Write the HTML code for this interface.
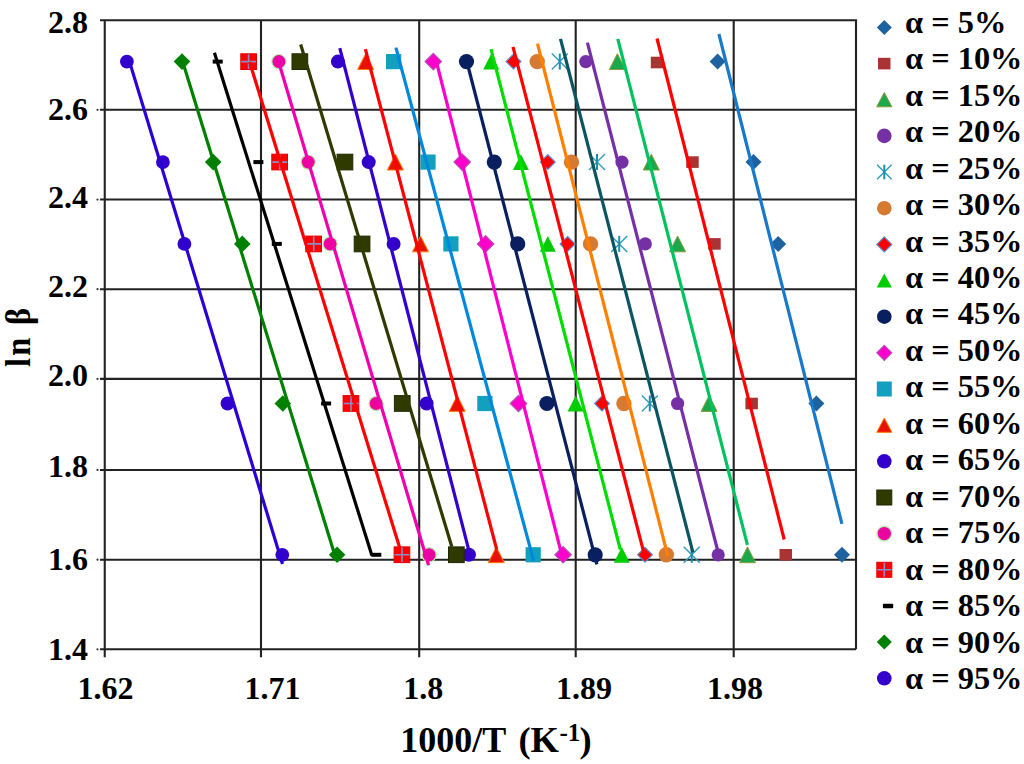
<!DOCTYPE html>
<html><head><meta charset="utf-8"><title>ln beta vs 1000/T</title>
<style>
html,body{margin:0;padding:0;background:#fff;}
body{width:1024px;height:764px;overflow:hidden;}
svg{display:block;}
text{font-family:"Liberation Serif",serif;font-weight:bold;fill:#000;}
</style></head><body>
<svg width="1024" height="764" viewBox="0 0 1024 764">
<rect width="1024" height="764" fill="#fff"/>
<path d="M100 20.20H856M100 109.80H856M100 199.55H856M100 289.20H856M100 378.90H856M100 469.95H856M100 559.70H856M100 649.30H856M104.75 19.2V657.3M261.00 19.2V657.3M419.20 19.2V657.3M575.70 19.2V657.3M733.70 19.2V657.3M856 19.2V649.3" stroke="#222" stroke-width="2.1" fill="none" stroke-linejoin="round"/>
<circle cx="97.5" cy="109.80" r="1.1" fill="#333"/>
<circle cx="97.5" cy="199.55" r="1.1" fill="#333"/>
<circle cx="97.5" cy="289.20" r="1.1" fill="#333"/>
<circle cx="97.5" cy="378.90" r="1.1" fill="#333"/>
<circle cx="97.5" cy="469.95" r="1.1" fill="#333"/>
<circle cx="97.5" cy="559.70" r="1.1" fill="#333"/>
<circle cx="97.5" cy="649.30" r="1.1" fill="#333"/>
<polygon points="717.6,53.6 725.6,61.6 717.6,69.6 709.6,61.6" fill="#1F62A0"/>
<polygon points="753.5,154.1 761.5,162.1 753.5,170.1 745.5,162.1" fill="#1F62A0"/>
<polygon points="778.2,235.9 786.2,243.9 778.2,251.9 770.2,243.9" fill="#1F62A0"/>
<polygon points="816.4,395.5 824.4,403.5 816.4,411.5 808.4,403.5" fill="#1F62A0"/>
<polygon points="842.0,546.8 850.0,554.8 842.0,562.8 834.0,554.8" fill="#1F62A0"/>
<rect x="650.8" y="56.7" width="12.5" height="11.6" fill="#AA3434"/>
<rect x="686.2" y="156.3" width="12.5" height="11.6" fill="#AA3434"/>
<rect x="708.2" y="238.1" width="12.5" height="11.6" fill="#AA3434"/>
<rect x="745.4" y="397.7" width="12.5" height="11.6" fill="#AA3434"/>
<rect x="779.5" y="549.0" width="12.5" height="11.6" fill="#AA3434"/>
<polygon points="617.4,53.7 625.4,69.5 609.4,69.5" fill="#1BA84A" stroke="#8A9A3A" stroke-width="1"/>
<polygon points="651.3,154.2 659.3,170.0 643.3,170.0" fill="#1BA84A" stroke="#8A9A3A" stroke-width="1"/>
<polygon points="677.6,236.0 685.6,251.8 669.6,251.8" fill="#1BA84A" stroke="#8A9A3A" stroke-width="1"/>
<polygon points="709.1,395.6 717.1,411.4 701.1,411.4" fill="#1BA84A" stroke="#8A9A3A" stroke-width="1"/>
<polygon points="747.5,546.9 755.5,562.7 739.5,562.7" fill="#1BA84A" stroke="#8A9A3A" stroke-width="1"/>
<circle cx="585.8" cy="61.6" r="6.6" fill="#7530A5"/>
<circle cx="622.0" cy="162.1" r="6.6" fill="#7530A5"/>
<circle cx="645.3" cy="243.9" r="6.6" fill="#7530A5"/>
<circle cx="677.6" cy="403.5" r="6.6" fill="#7530A5"/>
<circle cx="718.2" cy="554.8" r="6.6" fill="#7530A5"/>
<path d="M551.8 53.6L567.8 69.6M567.8 53.6L551.8 69.6" stroke="#2E9CB8" stroke-width="1.4"/><path d="M559.8 53.6V69.6" stroke="#1A8EA8" stroke-width="2"/>
<path d="M589.0 154.1L605.0 170.1M605.0 154.1L589.0 170.1" stroke="#2E9CB8" stroke-width="1.4"/><path d="M597.0 154.1V170.1" stroke="#1A8EA8" stroke-width="2"/>
<path d="M611.2 235.9L627.2 251.9M627.2 235.9L611.2 251.9" stroke="#2E9CB8" stroke-width="1.4"/><path d="M619.2 235.9V251.9" stroke="#1A8EA8" stroke-width="2"/>
<path d="M641.8 395.5L657.8 411.5M657.8 395.5L641.8 411.5" stroke="#2E9CB8" stroke-width="1.4"/><path d="M649.8 395.5V411.5" stroke="#1A8EA8" stroke-width="2"/>
<path d="M683.7 546.8L699.7 562.8M699.7 546.8L683.7 562.8" stroke="#2E9CB8" stroke-width="1.4"/><path d="M691.7 546.8V562.8" stroke="#1A8EA8" stroke-width="2"/>
<circle cx="537.2" cy="61.6" r="7.7" fill="#D67A32"/>
<circle cx="571.5" cy="162.1" r="7.7" fill="#D67A32"/>
<circle cx="590.5" cy="243.9" r="7.7" fill="#D67A32"/>
<circle cx="623.9" cy="403.5" r="7.7" fill="#D67A32"/>
<circle cx="666.3" cy="554.8" r="7.7" fill="#D67A32"/>
<polygon points="513.5,54.2 520.9,61.6 513.5,69.0 506.1,61.6" fill="#FF0000" stroke="#5B8BD0" stroke-width="1.2"/>
<polygon points="547.8,154.7 555.2,162.1 547.8,169.5 540.4,162.1" fill="#FF0000" stroke="#5B8BD0" stroke-width="1.2"/>
<polygon points="567.6,236.5 575.0,243.9 567.6,251.3 560.2,243.9" fill="#FF0000" stroke="#5B8BD0" stroke-width="1.2"/>
<polygon points="602.0,396.1 609.4,403.5 602.0,410.9 594.6,403.5" fill="#FF0000" stroke="#5B8BD0" stroke-width="1.2"/>
<polygon points="645.0,547.4 652.4,554.8 645.0,562.2 637.6,554.8" fill="#FF0000" stroke="#5B8BD0" stroke-width="1.2"/>
<polygon points="491.2,53.7 499.2,69.5 483.2,69.5" fill="#00CC00"/>
<polygon points="520.9,154.2 528.9,170.0 512.9,170.0" fill="#00CC00"/>
<polygon points="547.8,236.0 555.8,251.8 539.8,251.8" fill="#00CC00"/>
<polygon points="575.6,395.6 583.6,411.4 567.6,411.4" fill="#00CC00"/>
<polygon points="621.8,546.9 629.8,562.7 613.8,562.7" fill="#00CC00"/>
<circle cx="466.5" cy="61.6" r="7.6" fill="#0A1F5F"/>
<circle cx="494.3" cy="162.1" r="7.6" fill="#0A1F5F"/>
<circle cx="517.7" cy="243.9" r="7.6" fill="#0A1F5F"/>
<circle cx="546.9" cy="403.5" r="7.6" fill="#0A1F5F"/>
<circle cx="595.2" cy="554.8" r="7.6" fill="#0A1F5F"/>
<polygon points="433.3,53.4 441.5,61.6 433.3,69.8 425.1,61.6" fill="#FF00CC" stroke="#B050B0" stroke-width="1.2"/>
<polygon points="462.2,153.9 470.4,162.1 462.2,170.3 454.0,162.1" fill="#FF00CC" stroke="#B050B0" stroke-width="1.2"/>
<polygon points="485.6,235.7 493.8,243.9 485.6,252.1 477.4,243.9" fill="#FF00CC" stroke="#B050B0" stroke-width="1.2"/>
<polygon points="518.5,395.3 526.7,403.5 518.5,411.7 510.3,403.5" fill="#FF00CC" stroke="#B050B0" stroke-width="1.2"/>
<polygon points="563.1,546.6 571.3,554.8 563.1,563.0 554.9,554.8" fill="#FF00CC" stroke="#B050B0" stroke-width="1.2"/>
<rect x="386.0" y="54.0" width="15.2" height="15.2" fill="#12A0BE"/>
<rect x="420.4" y="154.5" width="15.2" height="15.2" fill="#12A0BE"/>
<rect x="443.3" y="236.3" width="15.2" height="15.2" fill="#12A0BE"/>
<rect x="477.3" y="395.9" width="15.2" height="15.2" fill="#12A0BE"/>
<rect x="525.6" y="547.2" width="15.2" height="15.2" fill="#12A0BE"/>
<polygon points="365.7,53.7 373.7,69.5 357.7,69.5" fill="#E81200" stroke="#FF7A00" stroke-width="1"/>
<polygon points="395.4,154.2 403.4,170.0 387.4,170.0" fill="#E81200" stroke="#FF7A00" stroke-width="1"/>
<polygon points="420.5,236.0 428.5,251.8 412.5,251.8" fill="#E81200" stroke="#FF7A00" stroke-width="1"/>
<polygon points="457.2,395.6 465.2,411.4 449.2,411.4" fill="#E81200" stroke="#FF7A00" stroke-width="1"/>
<polygon points="496.3,546.9 504.3,562.7 488.3,562.7" fill="#E81200" stroke="#FF7A00" stroke-width="1"/>
<circle cx="337.9" cy="61.6" r="7.0" fill="#3300CC"/>
<circle cx="368.7" cy="162.1" r="7.0" fill="#3300CC"/>
<circle cx="393.6" cy="243.9" r="7.0" fill="#3300CC"/>
<circle cx="426.6" cy="403.5" r="7.0" fill="#3300CC"/>
<circle cx="469.0" cy="554.8" r="7.0" fill="#3300CC"/>
<rect x="292.0" y="53.8" width="15.7" height="15.7" fill="#2F3A00" stroke="#1F2800" stroke-width="1"/>
<rect x="337.1" y="154.2" width="15.7" height="15.7" fill="#2F3A00" stroke="#1F2800" stroke-width="1"/>
<rect x="354.2" y="236.1" width="15.7" height="15.7" fill="#2F3A00" stroke="#1F2800" stroke-width="1"/>
<rect x="394.4" y="395.6" width="15.7" height="15.7" fill="#2F3A00" stroke="#1F2800" stroke-width="1"/>
<rect x="448.5" y="546.9" width="15.7" height="15.7" fill="#2F3A00" stroke="#1F2800" stroke-width="1"/>
<circle cx="278.9" cy="61.6" r="7.1" fill="#EA04A0" stroke="#B8F0A8" stroke-width="1.2"/>
<circle cx="308.2" cy="162.1" r="7.1" fill="#EA04A0" stroke="#B8F0A8" stroke-width="1.2"/>
<circle cx="330.1" cy="243.9" r="7.1" fill="#EA04A0" stroke="#B8F0A8" stroke-width="1.2"/>
<circle cx="376.1" cy="403.5" r="7.1" fill="#EA04A0" stroke="#B8F0A8" stroke-width="1.2"/>
<circle cx="429.1" cy="554.8" r="7.1" fill="#EA04A0" stroke="#B8F0A8" stroke-width="1.2"/>
<rect x="240.8" y="53.8" width="15.7" height="15.7" fill="#FF0000" stroke="#E00000" stroke-width="1"/><path d="M241.2 61.6H255.9M248.6 54.2V69.0" stroke="#8C8CC8" stroke-width="1.6"/>
<rect x="271.8" y="154.2" width="15.7" height="15.7" fill="#FF0000" stroke="#E00000" stroke-width="1"/><path d="M272.3 162.1H287.1M279.7 154.8V169.4" stroke="#8C8CC8" stroke-width="1.6"/>
<rect x="305.8" y="236.1" width="15.7" height="15.7" fill="#FF0000" stroke="#E00000" stroke-width="1"/><path d="M306.3 243.9H321.1M313.7 236.6V251.2" stroke="#8C8CC8" stroke-width="1.6"/>
<rect x="343.1" y="395.6" width="15.7" height="15.7" fill="#FF0000" stroke="#E00000" stroke-width="1"/><path d="M343.6 403.5H358.4M351.0 396.1V410.9" stroke="#8C8CC8" stroke-width="1.6"/>
<rect x="394.1" y="546.9" width="15.7" height="15.7" fill="#FF0000" stroke="#E00000" stroke-width="1"/><path d="M394.6 554.8H409.4M402.0 547.4V562.1" stroke="#8C8CC8" stroke-width="1.6"/>
<rect x="212.7" y="59.6" width="10" height="4" fill="#000"/>
<rect x="253.4" y="160.1" width="10" height="4" fill="#000"/>
<rect x="271.8" y="241.9" width="10" height="4" fill="#000"/>
<rect x="321.1" y="401.5" width="10" height="4" fill="#000"/>
<rect x="371.3" y="552.8" width="10" height="4" fill="#000"/>
<polygon points="182.0,53.3 190.3,61.6 182.0,69.9 173.7,61.6" fill="#008000"/>
<polygon points="213.2,153.8 221.5,162.1 213.2,170.4 204.9,162.1" fill="#008000"/>
<polygon points="242.3,235.6 250.6,243.9 242.3,252.2 234.0,243.9" fill="#008000"/>
<polygon points="282.8,395.2 291.1,403.5 282.8,411.8 274.5,403.5" fill="#008000"/>
<polygon points="337.1,546.5 345.4,554.8 337.1,563.1 328.8,554.8" fill="#008000"/>
<circle cx="126.9" cy="61.6" r="6.9" fill="#3300CC"/>
<circle cx="162.9" cy="162.1" r="6.9" fill="#3300CC"/>
<circle cx="184.4" cy="243.9" r="6.9" fill="#3300CC"/>
<circle cx="227.5" cy="403.5" r="6.9" fill="#3300CC"/>
<circle cx="282.3" cy="554.8" r="6.9" fill="#3300CC"/>
<line x1="718.9" y1="34.0" x2="841.9" y2="523.8" stroke="#1A78C8" stroke-width="3.2"/>
<line x1="657.0" y1="38.5" x2="784.2" y2="539.5" stroke="#FF0000" stroke-width="3.2"/>
<line x1="617.8" y1="38.9" x2="747.4" y2="544.9" stroke="#00C25E" stroke-width="3.2"/>
<line x1="587.4" y1="42.6" x2="717.4" y2="549.5" stroke="#7530A5" stroke-width="3.2"/>
<line x1="560.5" y1="38.9" x2="692.9" y2="552.3" stroke="#0B5563" stroke-width="3.2"/>
<line x1="537.5" y1="43.6" x2="667.8" y2="556.0" stroke="#FF8000" stroke-width="3.2"/>
<line x1="513.0" y1="46.9" x2="643.5" y2="551.4" stroke="#FF0000" stroke-width="3.2"/>
<line x1="491.0" y1="49.1" x2="620.3" y2="549.5" stroke="#00DD00" stroke-width="3.2"/>
<line x1="466.7" y1="61.0" x2="596.9" y2="564.4" stroke="#0A1F5F" stroke-width="3.2"/>
<line x1="436.2" y1="61.0" x2="561.7" y2="554.7" stroke="#FF00CC" stroke-width="3.2"/>
<line x1="395.9" y1="47.6" x2="533.6" y2="560.7" stroke="#0088DD" stroke-width="3.2"/>
<line x1="365.4" y1="49.1" x2="496.7" y2="549.5" stroke="#FF0000" stroke-width="3.2"/>
<line x1="339.8" y1="48.2" x2="469.7" y2="553.6" stroke="#3300CC" stroke-width="3.2"/>
<line x1="300.7" y1="44.5" x2="451.8" y2="546.8" stroke="#2F3A00" stroke-width="3.2"/>
<line x1="278.4" y1="61.0" x2="428.6" y2="565.3" stroke="#F000AC" stroke-width="3.2"/>
<line x1="249.6" y1="62.0" x2="399.7" y2="547.7" stroke="#FF0000" stroke-width="3.2"/>
<line x1="214.4" y1="52.8" x2="371.9" y2="555.5" stroke="#000000" stroke-width="3.2"/>
<line x1="182.7" y1="61.7" x2="334.8" y2="555.0" stroke="#008000" stroke-width="3.2"/>
<line x1="129.2" y1="60.6" x2="282.5" y2="564.0" stroke="#2A00D4" stroke-width="3.2"/>
<text x="88" y="32.75" font-size="32" text-anchor="end">2.8</text>
<text x="88" y="119.60" font-size="32" text-anchor="end">2.6</text>
<text x="88" y="208.00" font-size="32" text-anchor="end">2.4</text>
<text x="88" y="297.45" font-size="32" text-anchor="end">2.2</text>
<text x="88" y="385.95" font-size="32" text-anchor="end">2.0</text>
<text x="88" y="476.70" font-size="32" text-anchor="end">1.8</text>
<text x="88" y="569.80" font-size="32" text-anchor="end">1.6</text>
<text x="88" y="660.15" font-size="32" text-anchor="end">1.4</text>
<text x="105.4" y="699" font-size="32" text-anchor="middle">1.62</text>
<text x="272.4" y="699" font-size="32" text-anchor="middle">1.71</text>
<text x="423.2" y="699" font-size="32" text-anchor="middle">1.8</text>
<text x="584.0" y="699" font-size="32" text-anchor="middle">1.89</text>
<text x="735.1" y="699" font-size="32" text-anchor="middle">1.98</text>
<text y="751.6" font-size="36"><tspan x="400.2">1000/T</tspan><tspan x="518.4" font-size="36.5">(K</tspan><tspan x="559.5" dy="-10.6" font-size="25">-1</tspan><tspan x="579.4" dy="10.6" font-size="36.5">)</tspan></text>
<text transform="translate(30.2,366.9) rotate(-90) scale(0.93,1)" font-size="35">l</text>
<text transform="translate(30.2,355.7) rotate(-90) scale(0.93,1)" font-size="35">n</text>
<text transform="translate(30.2,325.1) rotate(-90) scale(0.93,1)" font-size="35">&#946;</text>
<polygon points="884.3,19.9 891.8,27.4 884.3,34.9 876.8,27.4" fill="#1F62A0"/>
<text x="905" y="32.6" font-size="32.4">&#945; = 5%</text>
<rect x="878.0" y="57.8" width="12.5" height="11.6" fill="#AA3434"/>
<text x="905" y="69.1" font-size="32.4">&#945; = 10%</text>
<polygon points="884.3,92.6 891.9,106.8 876.7,106.8" fill="#1BA84A" stroke="#8A9A3A" stroke-width="1"/>
<text x="905" y="105.6" font-size="32.4">&#945; = 15%</text>
<circle cx="884.3" cy="135.9" r="7.3" fill="#7530A5"/>
<text x="905" y="142.0" font-size="32.4">&#945; = 20%</text>
<path d="M877.0 164.7L891.6 179.3M891.6 164.7L877.0 179.3" stroke="#2E9CB8" stroke-width="1.4"/><path d="M884.3 164.7V179.3" stroke="#1A8EA8" stroke-width="2"/>
<text x="905" y="178.5" font-size="32.4">&#945; = 25%</text>
<circle cx="884.3" cy="208.2" r="7.3" fill="#D67A32"/>
<text x="905" y="215.0" font-size="32.4">&#945; = 30%</text>
<polygon points="884.3,236.9 891.8,244.4 884.3,251.9 876.8,244.4" fill="#FF0000" stroke="#5B8BD0" stroke-width="1.2"/>
<text x="905" y="251.5" font-size="32.4">&#945; = 35%</text>
<polygon points="884.3,273.4 891.9,287.6 876.7,287.6" fill="#00CC00"/>
<text x="905" y="288.0" font-size="32.4">&#945; = 40%</text>
<circle cx="884.3" cy="316.7" r="7.3" fill="#0A1F5F"/>
<text x="905" y="324.4" font-size="32.4">&#945; = 45%</text>
<polygon points="884.3,345.3 891.8,352.8 884.3,360.3 876.8,352.8" fill="#FF00CC" stroke="#B050B0" stroke-width="1.2"/>
<text x="905" y="360.9" font-size="32.4">&#945; = 50%</text>
<rect x="876.8" y="381.5" width="15.0" height="15.0" fill="#12A0BE"/>
<text x="905" y="397.4" font-size="32.4">&#945; = 55%</text>
<polygon points="884.3,418.1 891.9,432.3 876.7,432.3" fill="#E81200" stroke="#FF7A00" stroke-width="1"/>
<text x="905" y="433.9" font-size="32.4">&#945; = 60%</text>
<circle cx="884.3" cy="461.3" r="7.3" fill="#3300CC"/>
<text x="905" y="470.4" font-size="32.4">&#945; = 65%</text>
<rect x="876.8" y="490.0" width="15.0" height="15.0" fill="#2F3A00" stroke="#1F2800" stroke-width="1"/>
<text x="905" y="506.8" font-size="32.4">&#945; = 70%</text>
<circle cx="884.3" cy="533.6" r="7.3" fill="#EA04A0" stroke="#B8F0A8" stroke-width="1.2"/>
<text x="905" y="543.3" font-size="32.4">&#945; = 75%</text>
<rect x="876.8" y="562.3" width="15.0" height="15.0" fill="#FF0000" stroke="#E00000" stroke-width="1"/><path d="M877.3 569.8H891.3M884.3 562.8V576.8" stroke="#8C8CC8" stroke-width="1.6"/>
<text x="905" y="579.8" font-size="32.4">&#945; = 80%</text>
<rect x="882.9" y="603.8" width="10.3" height="4.4" rx="0.8" fill="#000"/>
<text x="905" y="616.3" font-size="32.4">&#945; = 85%</text>
<polygon points="884.3,634.6 891.8,642.1 884.3,649.6 876.8,642.1" fill="#008000"/>
<text x="905" y="652.8" font-size="32.4">&#945; = 90%</text>
<circle cx="884.3" cy="678.3" r="7.3" fill="#3300CC"/>
<text x="905" y="689.2" font-size="32.4">&#945; = 95%</text>
</svg>
</body></html>
